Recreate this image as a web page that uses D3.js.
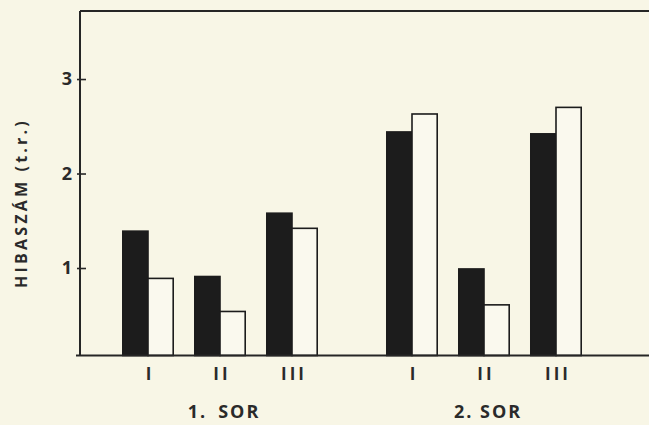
<!DOCTYPE html>
<html>
<head>
<meta charset="utf-8">
<script src="https://cdn.jsdelivr.net/npm/d3@7"></script>
<style>
  html, body { margin: 0; padding: 0; background: #f8f6e6; }
  svg { display: block; }
  text { font-family: "Open Sans", "DejaVu Sans", sans-serif; fill: #2a2a2a; }
</style>
</head>
<body>
<svg id="chart" width="649" height="425"></svg>
<script>
// ---- data ----
const groups = ["1. SOR", "2. SOR"];
const categories = ["I", "II", "III"];
const series = ["black", "white"];
const blackValues = [[1.39, 0.91, 1.58], [2.44, 0.99, 2.42]];
const whiteValues = [[0.89, 0.54, 1.42], [2.63, 0.61, 2.70]];
const yTicks = [1, 2, 3];
const yTitle = "HIBASZÁM (t.r.)";

const rows = [];
groups.forEach((g, gi) => categories.forEach((c, ci) => {
  rows.push({ group: g, cat: c, series: "black", value: blackValues[gi][ci] });
  rows.push({ group: g, cat: c, series: "white", value: whiteValues[gi][ci] });
}));

// ---- layout ----
const svg = d3.select("#chart");
const axisX = 80, topY = 11, baseY = 355.5, rightX = 649;

const x0 = d3.scaleBand().domain(groups).range([112, 592]).paddingInner(48 / 264).paddingOuter(0);
const x1 = d3.scaleBand().domain(categories).range([0, x0.bandwidth()]).paddingInner(0.3).paddingOuter(0.15);
const x2 = d3.scaleBand().domain(series).range([0, x1.bandwidth()]);
const y = d3.scaleLinear().domain([0.074, 3.72]).range([baseY, topY]);

// bars
svg.append("g").selectAll("rect").data(rows).join("rect")
  .attr("x", d => x0(d.group) + x1(d.cat) + x2(d.series))
  .attr("y", d => y(d.value))
  .attr("width", x2.bandwidth())
  .attr("height", d => y(y.domain()[0]) - y(d.value))
  .attr("fill", d => d.series === "black" ? "#1c1c1c" : "#faf9ee")
  .attr("stroke", "#1c1c1c")
  .attr("stroke-width", 1.6);

// frame
const frame = svg.append("g").attr("stroke", "#262626").attr("stroke-width", 2).attr("fill", "none");
frame.append("line").attr("x1", axisX).attr("x2", rightX).attr("y1", topY).attr("y2", topY);
frame.append("line").attr("x1", 76).attr("x2", rightX).attr("y1", baseY).attr("y2", baseY);

// y axis
const yAxis = svg.append("g").attr("transform", `translate(${axisX},0)`)
  .call(d3.axisLeft(y).tickValues(yTicks).tickFormat(d3.format("d")).tickSizeInner(-6).tickSizeOuter(0).tickPadding(8));
yAxis.select(".domain").attr("stroke", "#262626").attr("stroke-width", 2)
  .attr("d", `M0,${topY}V${baseY}`);
yAxis.selectAll(".tick line").attr("x1", -3).attr("stroke", "#262626").attr("stroke-width", 1.6);
yAxis.selectAll(".tick text").attr("font-size", null).attr("font-family", null)
  .style("font-size", "18px").style("font-weight", "700")
  .style("font-family", "'Open Sans', sans-serif").attr("fill", "#2a2a2a");

// category labels
const catLabels = [];
groups.forEach(g => categories.forEach(c => catLabels.push({ g, c })));
svg.append("g").selectAll("text").data(catLabels).join("text")
  .attr("x", d => x0(d.g) + x1(d.c) + x1.bandwidth() / 2 + 2)
  .attr("y", 380)
  .attr("text-anchor", "middle")
  .style("font-size", "17px").style("font-weight", "700").style("letter-spacing", "3px")
  .text(d => d.c);

// group labels
svg.append("g").selectAll("text").data(groups).join("text")
  .attr("x", d => x0(d) + x0.bandwidth() / 2 + 4)
  .attr("y", 418)
  .attr("text-anchor", "middle")
  .style("font-size", "18px").style("font-weight", "700").style("letter-spacing", "2px")
  .text(d => d.replace(". ", ".\u2002").replace("2.\u2002", "2. "));

// y title
svg.append("text")
  .attr("transform", "translate(27,203) rotate(-90)")
  .attr("text-anchor", "middle")
  .style("font-size", "16px").style("font-weight", "700").style("letter-spacing", "3.2px")
  .text(yTitle);
</script>
</body>
</html>
